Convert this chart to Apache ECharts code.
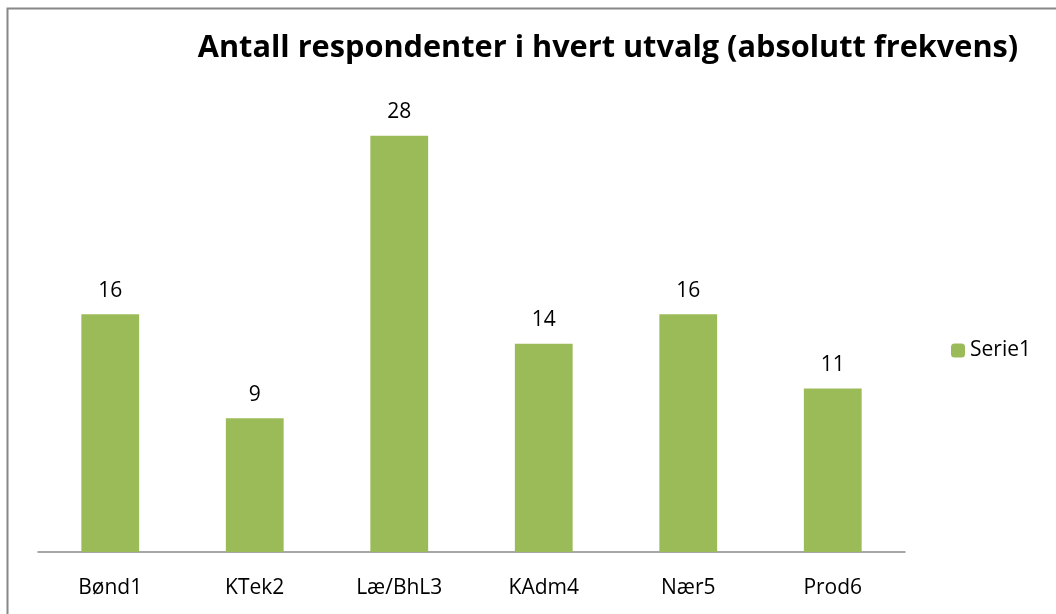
<!DOCTYPE html>
<html>
<head>
<meta charset="utf-8">
<script src="https://cdn.jsdelivr.net/npm/echarts@6/dist/echarts.min.js"></script>
<style>
  html, body { margin: 0; padding: 0; background: #fff; }
  #chart { width: 1056px; height: 614px; }
</style>
</head>
<body>
<div id="chart"></div>
<script>
// data
var categories = ['Bønd1', 'KTek2', 'Læ/BhL3', 'KAdm4', 'Nær5', 'Prod6'];
var values = [16, 9, 28, 14, 16, 11];
var seriesName = 'Serie1';

var chart = echarts.init(document.getElementById('chart'));

var option = {
  animation: false,
  textStyle: { fontFamily: 'Open Sans' },
  title: {
    text: 'Antall respondenter i hvert utvalg (absolutt frekvens)',
    left: 603,
    top: 28,
    textAlign: 'center',
    textStyle: {
      fontFamily: 'Open Sans',
      fontWeight: 'bold',
      fontSize: 30.7,
      color: '#000'
    }
  },
  legend: {
    data: [seriesName],
    left: 946,
    top: 335,
    itemWidth: 14,
    itemHeight: 14,
    itemGap: 6,
    textStyle: { fontSize: 21, color: '#000', fontFamily: 'Open Sans' }
  },
  grid: {
    left: 38,
    right: 151,
    top: 106,
    bottom: 62
  },
  xAxis: {
    type: 'category',
    data: categories,
    axisLine: { lineStyle: { color: '#898989', width: 1.5 } },
    axisTick: { show: false },
    axisLabel: { fontSize: 21, color: '#000', margin: 26 }
  },
  yAxis: {
    type: 'value',
    min: 0,
    max: 30,
    show: false,
    splitLine: { show: false }
  },
  series: [{
    name: seriesName,
    type: 'bar',
    data: values,
    barCategoryGap: '60%',
    itemStyle: { color: '#9BBB59' },
    label: {
      show: true,
      position: 'top',
      distance: 13,
      fontSize: 21,
      color: '#000'
    }
  }],
  graphic: [{
    type: 'rect',
    shape: { x: 7.5, y: 8.5, width: 1100, height: 700 },
    style: { fill: 'none', stroke: '#888', lineWidth: 2 },
    silent: true
  }]
};

chart.setOption(option);
</script>
</body>
</html>
